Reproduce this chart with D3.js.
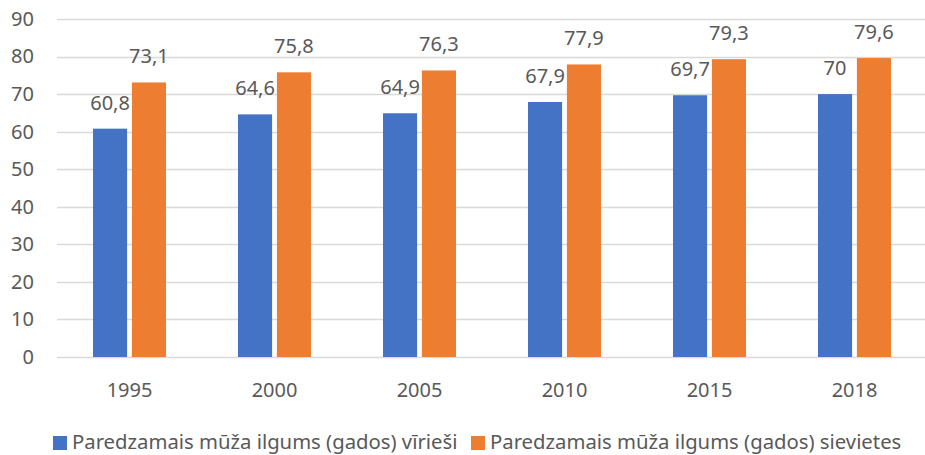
<!DOCTYPE html>
<html>
<head>
<meta charset="utf-8">
<script src="https://cdn.jsdelivr.net/npm/d3@7"></script>
<style>
  html, body { margin: 0; padding: 0; background: #fff; }
  svg { display: block; font-family: "Noto Sans", "Open Sans", sans-serif; }
</style>
</head>
<body>
<svg id="chart" width="925" height="455"></svg>
<script>
// Chart data
const years = ["1995", "2000", "2005", "2010", "2015", "2018"];
const men = [60.8, 64.6, 64.9, 67.9, 69.7, 70];
const women = [73.1, 75.8, 76.3, 77.9, 79.3, 79.6];
const seriesNames = [
  "Paredzamais mūža ilgums (gados) vīrieši",
  "Paredzamais mūža ilgums (gados) sievietes"
];
const yTicks = [0, 10, 20, 30, 40, 50, 60, 70, 80, 90];

const colors = ["#4472C4", "#ED7D31"];
const textColor = "#595959";
const fmt = v => String(v).replace(".", ",");

const svg = d3.select("#chart");
const plot = { left: 57, right: 927, top: 19, bottom: 357 };

const x = d3.scaleBand()
  .domain(years)
  .range([plot.left, plot.right]);

const y = d3.scaleLinear()
  .domain([0, 90])
  .range([plot.bottom, plot.top]);

// inner band: two bars of 32px with a 9px gap inside a 145px step
const x1 = d3.scaleBand()
  .domain([0, 1])
  .range([x.bandwidth() / 2 - 36.5, x.bandwidth() / 2 + 36.5])
  .paddingInner(9 / 73);

// Gridlines
svg.append("g").attr("class", "grid")
  .selectAll("line")
  .data(yTicks)
  .join("line")
    .attr("x1", plot.left)
    .attr("x2", plot.right)
    .attr("y1", d => Math.round(y(d)) + 0.5)
    .attr("y2", d => Math.round(y(d)) + 0.5)
    .attr("stroke", "#d9d9d9")
    .attr("stroke-width", 1.3);

// Y axis labels
const yAxis = d3.axisLeft(y).tickValues(yTicks).tickSize(0).tickPadding(0);
const gy = svg.append("g")
  .attr("transform", `translate(34,0)`)
  .call(yAxis);
gy.select(".domain").remove();
gy.selectAll("text")
  .attr("fill", textColor)
  .style("font-size", "20px")
  .style("font-family", "'Noto Sans', sans-serif");

// X axis labels
const xAxis = d3.axisBottom(x).tickSize(0).tickPadding(0);
const gx = svg.append("g")
  .attr("transform", `translate(0,${plot.bottom})`)
  .call(xAxis);
gx.select(".domain").remove();
gx.selectAll("text")
  .attr("fill", textColor)
  .attr("dy", 0)
  .attr("y", 40)
  .style("font-size", "20px")
  .style("font-family", "'Noto Sans', sans-serif");

// Bars
const rows = years.map((yr, i) => ({ year: yr, vals: [men[i], women[i]] }));
const groups = svg.append("g").attr("class", "bars")
  .selectAll("g")
  .data(rows)
  .join("g")
    .attr("transform", d => `translate(${x(d.year)},0)`);

groups.selectAll("rect")
  .data(d => d.vals.map((v, k) => ({ v, k })))
  .join("rect")
    .attr("x", d => x1(d.k))
    .attr("width", x1.bandwidth())
    .attr("y", d => y(d.v))
    .attr("height", d => y(0) - y(d.v))
    .attr("fill", d => colors[d.k]);

// Value labels
groups.selectAll("text")
  .data(d => d.vals.map((v, k) => ({ v, k })))
  .join("text")
    .attr("x", d => x1(d.k) + x1.bandwidth() / 2)
    .attr("y", d => y(d.v) - 19)
    .attr("text-anchor", "middle")
    .attr("fill", textColor)
    .style("font-size", "20px")
    .text(d => fmt(d.v));

// Legend
const legendX = [53, 471];
const legend = svg.append("g").attr("class", "legend")
  .selectAll("g")
  .data(seriesNames)
  .join("g")
    .attr("transform", (d, i) => `translate(${legendX[i]},436)`);
legend.append("rect")
  .attr("width", 14)
  .attr("height", 14)
  .attr("fill", (d, i) => colors[i]);
legend.append("text")
  .attr("x", 19)
  .attr("y", 13)
  .attr("fill", textColor)
  .style("font-size", "20.3px")
  .text(d => d);
</script>
</body>
</html>
